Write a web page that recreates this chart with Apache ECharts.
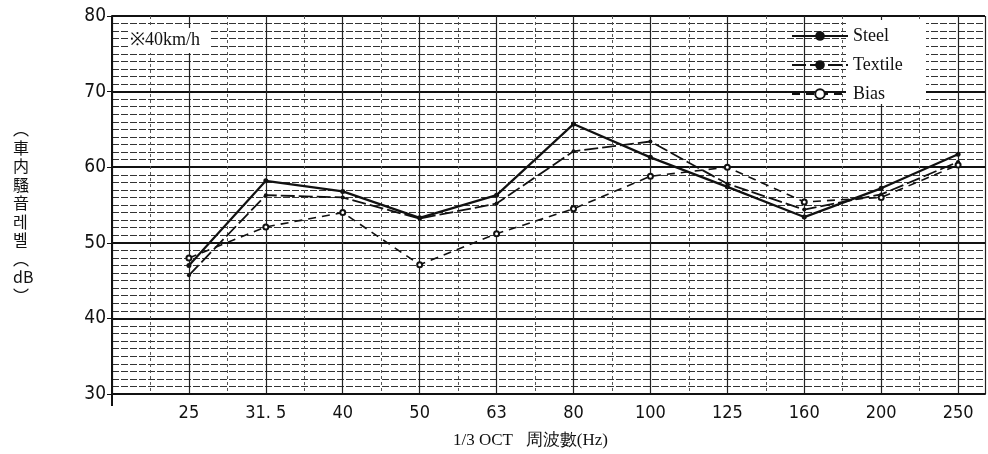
<!DOCTYPE html>
<html><head><meta charset="utf-8">
<script src="https://cdn.jsdelivr.net/npm/echarts@6/dist/echarts.min.js"></script>
<style>html,body{margin:0;padding:0;background:#fff}#c{width:988px;height:454px}</style>
</head><body><div id="c"></div>
<script>
const categories = ['25','31. 5','40','50','63','80','100','125','160','200','250'];
const steel   = [47.0, 58.2, 56.8, 53.3, 56.3, 65.7, 61.3, 57.4, 53.4, 57.2, 61.7];
const textile = [45.7, 56.3, 56.0, 53.2, 55.2, 62.1, 63.4, 57.8, 54.4, 56.4, 60.7];
const bias    = [48.0, 52.1, 54.0, 47.1, 51.2, 54.5, 58.8, 60.0, 55.4, 56.0, 60.3];
const yTicks  = [30, 40, 50, 60, 70, 80];
const seriesNames = ['Steel', 'Textile', 'Bias'];
const note = '※40km/h';
const yName = ['︵','車','内','騷','音','레','벨','︵','dB','︶'];
const xName = '1/3 OCT   周波數(Hz)';

const narrow = "'Liberation Sans Narrow','DejaVu Sans Condensed','Liberation Sans',sans-serif";
const serif = "'Liberation Serif','DejaVu Serif',serif";
const toXY = arr => arr.map((v, i) => [i + 1, v]);

const chart = echarts.init(document.getElementById('c'), null, {renderer: 'canvas'});
chart.setOption({
  animation: false,
  backgroundColor: '#fff',
  grid: {left: 112, right: 3, top: 16, bottom: 60, show: false},
  xAxis: {
    type: 'value', min: 0, max: 11.35, interval: 1,
    axisLine: {show: true, lineStyle: {color: '#111', width: 2}},
    axisTick: {show: false},
    minorTick: {show: false, splitNumber: 2},
    splitLine: {show: true, lineStyle: {color: '#222', width: 1.2}},
    minorSplitLine: {show: true, lineStyle: {color: '#555', width: 1, type: [3, 3]}},
    axisLabel: {
      margin: 10, color: '#111', fontSize: 18, fontFamily: narrow,
      showMaxLabel: false,
      formatter: v => (Number.isInteger(v) && v >= 1 && v <= categories.length) ? categories[v - 1] : ''
    }
  },
  yAxis: {
    type: 'value', min: yTicks[0], max: yTicks[yTicks.length - 1], interval: 10,
    axisLine: {show: true, lineStyle: {color: '#111', width: 2}},
    axisTick: {show: true, length: 5, lineStyle: {color: '#111'}},
    minorTick: {show: false, splitNumber: 10},
    splitLine: {show: true, lineStyle: {color: '#111', width: 2}},
    minorSplitLine: {show: true, lineStyle: {color: '#333', width: 1, type: [7, 2]}},
    axisLabel: {margin: 6, color: '#111', fontSize: 19, fontFamily: narrow}
  },
  legend: {
    orient: 'vertical', left: 786, top: 22, itemWidth: 56, itemHeight: 12, itemGap: 11,
    data: seriesNames,
    textStyle: {fontFamily: serif, fontSize: 18, color: '#111'}
  },
  series: [
    {name: seriesNames[0], type: 'line', data: toXY(steel), symbol: 'circle', symbolSize: 5,
     itemStyle: {color: '#111'}, lineStyle: {color: '#111', width: 2.2, type: 'solid'}},
    {name: seriesNames[1], type: 'line', data: toXY(textile), symbol: 'circle', symbolSize: 4,
     itemStyle: {color: '#111'}, lineStyle: {color: '#111', width: 1.8, type: [14, 4]}},
    {name: seriesNames[2], type: 'line', data: toXY(bias), symbol: 'emptyCircle', symbolSize: 5,
     itemStyle: {color: '#111', borderWidth: 1.5}, lineStyle: {color: '#111', width: 1.6, type: [8, 6]}}
  ],
  graphic: [
    {type: 'rect', z: 1, shape: {x: 128, y: 28, width: 82, height: 25}, style: {fill: '#fff'}},
    {type: 'rect', z: 1, shape: {x: 846, y: 20, width: 80, height: 84}, style: {fill: '#fff'}},
    {type: 'text', z: 3, left: 130, top: 31, style: {text: note, font: '18px ' + serif, fill: '#111'}},
    {type: 'text', z: 3, left: 13, top: 120, style: {text: yName.join('\n'), font: '16px "Noto Sans CJK KR"', fill: '#111', lineHeight: 18.5, align: 'center'}},
    {type: 'text', z: 3, left: 453, top: 432, style: {text: xName, font: '17px ' + serif, fill: '#111'}},
    {type: 'line', z: 3, shape: {x1: 112, y1: 394, x2: 112, y2: 406}, style: {stroke: '#111', lineWidth: 2}}
  ]
});
</script></body></html>
